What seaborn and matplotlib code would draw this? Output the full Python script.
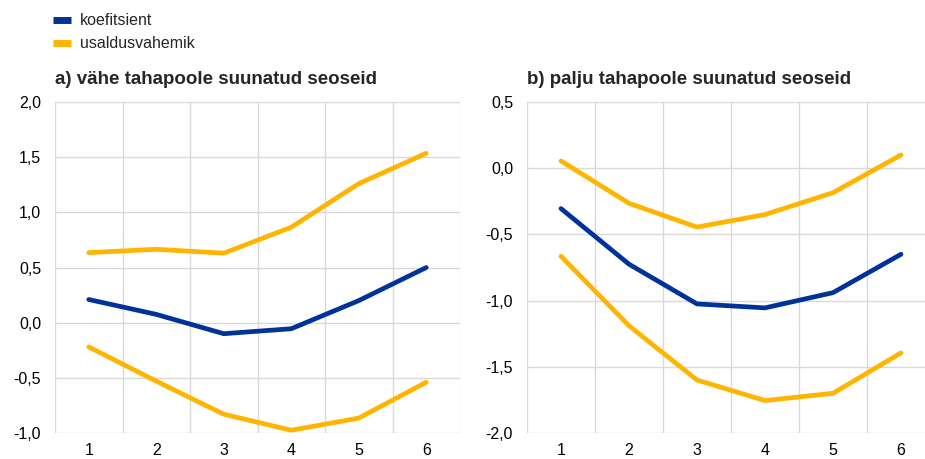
import numpy as np
import pandas as pd
import matplotlib
matplotlib.use("Agg")
import matplotlib.pyplot as plt
from matplotlib.lines import Line2D
from matplotlib.ticker import FixedLocator, FuncFormatter
import seaborn as sns

# Horizons
horizon = [1, 2, 3, 4, 5, 6]

# Panel a) few inward-directed links
a_coef = [0.21, 0.075, -0.10, -0.055, 0.20, 0.50]
a_upper = [0.635, 0.665, 0.63, 0.865, 1.26, 1.535]
a_lower = [-0.22, -0.53, -0.83, -0.975, -0.865, -0.54]

# Panel b) many inward-directed links
b_coef = [-0.305, -0.725, -1.025, -1.055, -0.94, -0.65]
b_upper = [0.055, -0.265, -0.445, -0.35, -0.185, 0.10]
b_lower = [-0.665, -1.19, -1.60, -1.755, -1.70, -1.395]

titles = ["a) vähe tahapoole suunatud seoseid", "b) palju tahapoole suunatud seoseid"]
legend_labels = ["koefitsient", "usaldusvahemik"]

BLUE = "#003299"
YELLOW = "#FFB400"
GRID = "#D9D9D9"

sns.set_style("white")
plt.rcParams["font.family"] = ["Liberation Sans", "DejaVu Sans"]


def long_frame(coef, upper, lower):
    rows = []
    for name, vals in (("coef", coef), ("upper", upper), ("lower", lower)):
        for h, v in zip(horizon, vals):
            rows.append({"h": h, "v": v, "series": name})
    return pd.DataFrame(rows)


fig = plt.figure(figsize=(9.25, 4.59), dpi=100)
W, H = 925, 459
ax_a = fig.add_axes([55 / W, 1 - 433 / H, (460 - 55) / W, (433 - 102) / H])
ax_b = fig.add_axes([527 / W, 1 - 433 / H, (935 - 527) / W, (433 - 102) / H])

comma = FuncFormatter(lambda v, p: f"{v:.1f}".replace(".", ","))

panels = [
    (ax_a, long_frame(a_coef, a_upper, a_lower), (-1.0, 2.0), np.arange(-1.0, 2.01, 0.5)),
    (ax_b, long_frame(b_coef, b_upper, b_lower), (-2.0, 0.5), np.arange(-2.0, 0.51, 0.5)),
]

for (ax, df, ylim, yticks), title in zip(panels, titles):
    sns.lineplot(
        data=df, x="h", y="v", hue="series", units="series", estimator=None,
        palette={"coef": BLUE, "upper": YELLOW, "lower": YELLOW},
        hue_order=["upper", "lower", "coef"],
        linewidth=3.4, legend=False, ax=ax, solid_capstyle="round",
    )
    ax.set_xlim(0.5, 6.5)
    ax.set_ylim(*ylim)
    ax.set_xticks(horizon)
    ax.xaxis.set_minor_locator(FixedLocator(np.arange(0.5, 6.6, 1.0)))
    ax.set_yticks(yticks)
    ax.yaxis.set_major_formatter(comma)
    ax.grid(False)
    ax.grid(True, axis="y", which="major", color=GRID, linewidth=1.0)
    ax.grid(True, axis="x", which="minor", color=GRID, linewidth=1.0)
    ax.set_axisbelow(True)
    for s in ax.spines.values():
        s.set_visible(False)
    ax.tick_params(axis="both", which="both", length=0, labelsize=11.5, colors="#000000")
    ax.tick_params(axis="y", pad=10)
    ax.tick_params(axis="x", pad=7)
    ax.set_xlabel("")
    ax.set_ylabel("")
    ax.set_title(title, loc="left", fontsize=13.5, fontweight="bold", pad=13)

handles = [
    Line2D([], [], color=BLUE, linewidth=5, solid_capstyle="butt"),
    Line2D([], [], color=YELLOW, linewidth=5, solid_capstyle="butt"),
]
fig.legend(
    handles, legend_labels, loc="upper left", bbox_to_anchor=(47 / W, 1 - 7 / H),
    frameon=False, fontsize=11.5, handlelength=1.1, handletextpad=0.55,
    labelspacing=0.5, borderaxespad=0,
)

fig.savefig("out.png", dpi=100)
